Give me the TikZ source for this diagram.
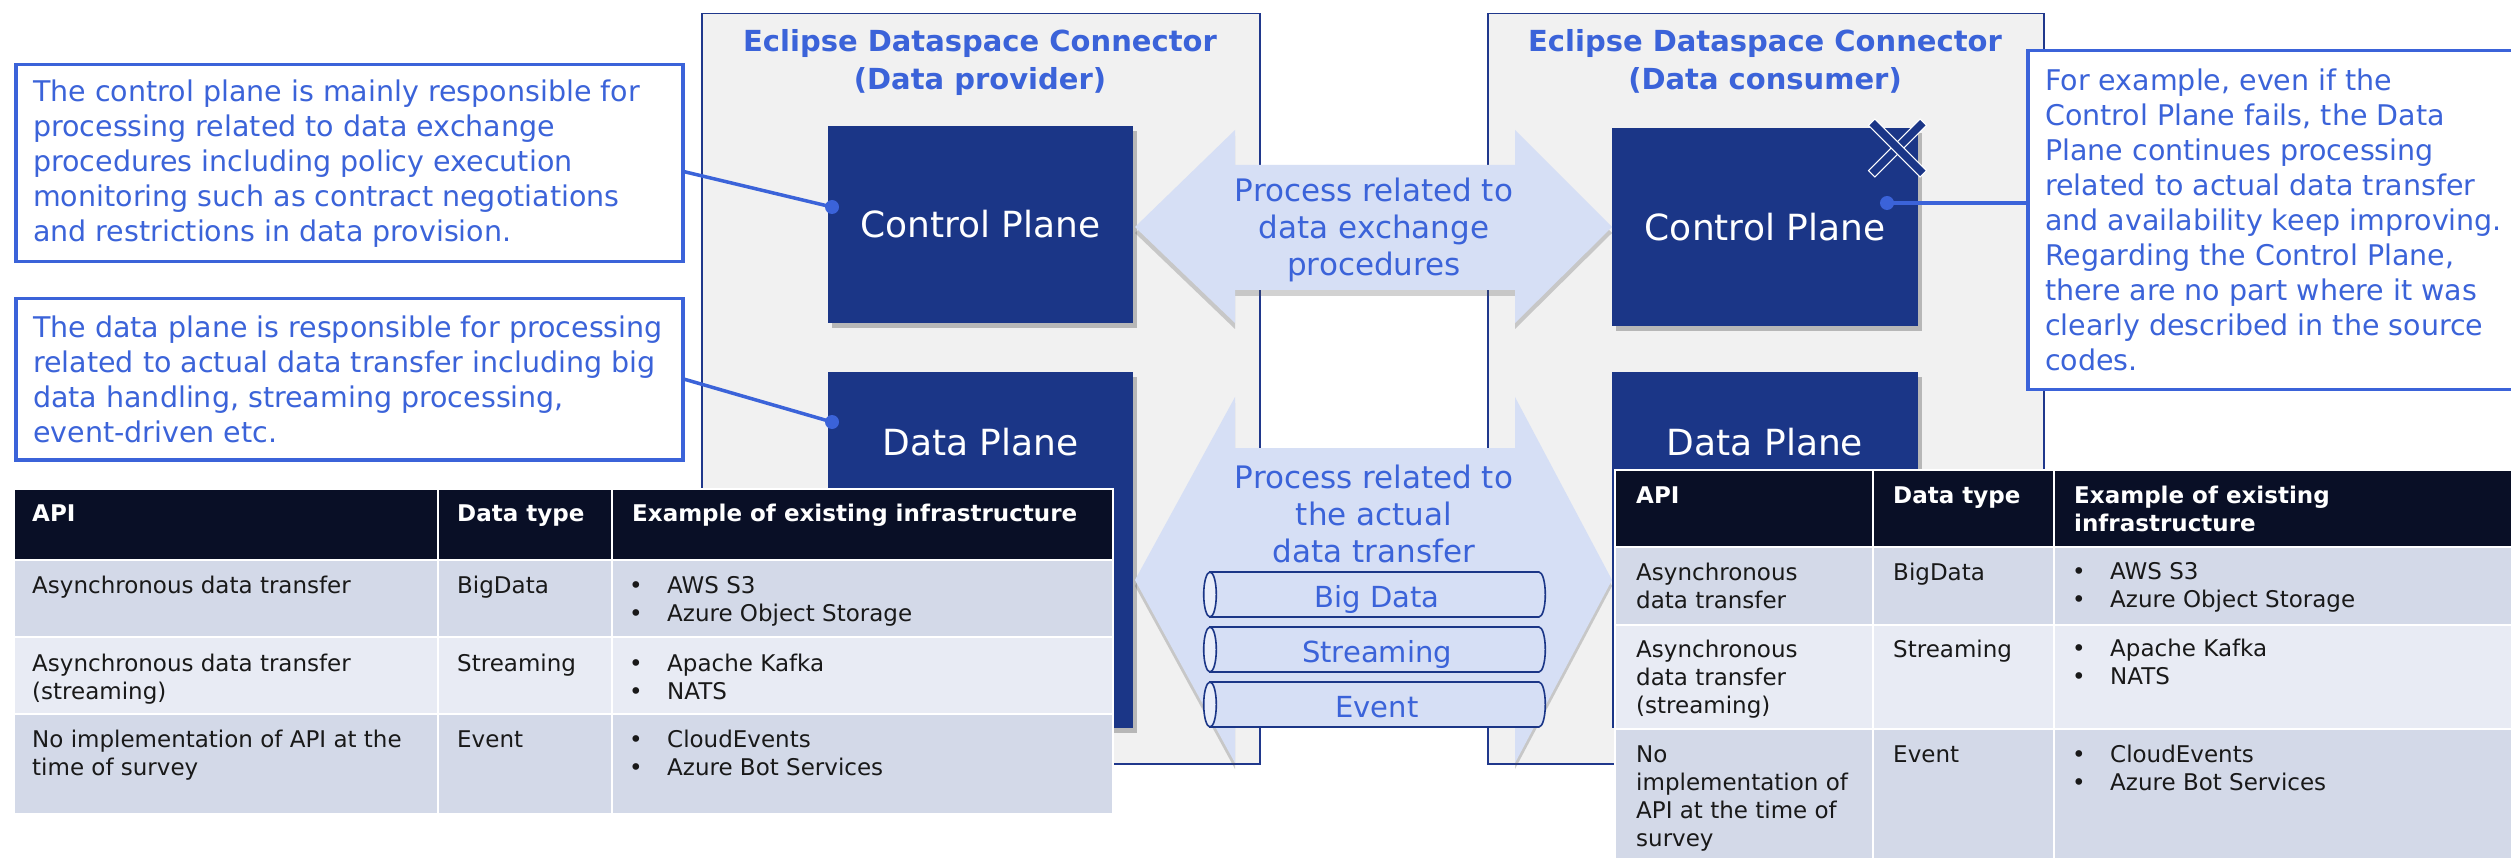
\documentclass[tikz,border=0pt]{standalone}
\usepackage{fontspec}
\setmainfont{DejaVu Sans}
\usetikzlibrary{shadows}

\definecolor{noteblue}{RGB}{59,99,217}
\definecolor{planenavy}{RGB}{27,54,135}
\definecolor{panelline}{RGB}{32,56,140}
\definecolor{panelgray}{RGB}{241,241,241}
\definecolor{flowfill}{RGB}{214,223,245}
\definecolor{capfill}{RGB}{232,237,250}
\definecolor{headnavy}{RGB}{9,15,38}
\definecolor{rowdark}{RGB}{211,217,232}
\definecolor{rowlight}{RGB}{232,235,244}
\definecolor{celltext}{RGB}{25,25,25}

\tikzset{
  panel/.style={draw=panelline, line width=1.5pt, fill=panelgray, anchor=north west, inner sep=0pt},
  paneltitle/.style={text=noteblue, font=\fontsize{29}{38}\selectfont\bfseries, align=center, anchor=base, inner sep=0pt},
  plane/.style={fill=planenavy, text=white, inner sep=0pt, font=\fontsize{36}{40}\selectfont,
    drop shadow={shadow xshift=4pt, shadow yshift=-5pt, opacity=.35, fill=black!70}},
  planelabel/.style={text=white, font=\fontsize{36}{40}\selectfont, anchor=base, inner sep=0pt},
  note/.style={draw=noteblue, line width=3.5pt, fill=white, anchor=north west, inner sep=0pt},
  notetext/.style={text=noteblue, font=\fontsize{28.5}{35}\selectfont, align=left, anchor=west, inner sep=0pt},
  leader/.style={draw=noteblue, line width=3.5pt},
  pin/.style={circle, fill=noteblue, inner sep=0pt, minimum size=14pt},
  flow/.style={fill=flowfill, drop shadow={shadow xshift=0pt, shadow yshift=-6pt, opacity=.25, fill=black!70}},
  flowtext/.style={text=noteblue, font=\fontsize{31}{37}\selectfont, align=center, anchor=base, inner sep=0pt},
  pipe/.style={draw=planenavy, line width=1.6pt, fill=flowfill},
  pipecap/.style={draw=planenavy, line width=1.6pt, fill=capfill},
  pipetext/.style={text=noteblue, font=\fontsize{29}{30}\selectfont, anchor=base, inner sep=0pt},
  cell/.style={text=celltext, font=\fontsize{23}{28}\selectfont, align=left, anchor=base west, inner sep=0pt},
  headcell/.style={cell, text=white, font=\fontsize{23}{28}\selectfont\bfseries},
  gap/.style={draw=white, line width=2.5pt},
  failbar/.style={draw=white, line width=1pt, fill=planenavy, minimum width=73pt, minimum height=9pt, inner sep=0pt},
}
\newcommand{\bul}{\makebox[38pt][l]{\textbullet}}

\begin{document}
\begin{tikzpicture}[x=1pt, y=-1pt]
  \useasboundingbox[fill=white] (0,0) rectangle (2511,858);

  % Connector panels (multi-line nodes sit on their last baseline)
  \node[panel, minimum width=558pt, minimum height=750pt] (provider) at (701,13) {};
  \node[panel, minimum width=556pt, minimum height=750pt] (consumer) at (1487,13) {};
  \node[paneltitle] (provtitle) at (980,90) {Eclipse Dataspace Connector\\(Data provider)};
  \node[paneltitle] (constitle) at (1765,90) {Eclipse Dataspace Connector\\(Data consumer)};

  % Control and data planes
  \node[plane, minimum width=305pt, minimum height=197pt] (provctrl) at (980.5,224.5) {Control Plane};
  \node[plane, minimum width=305pt, minimum height=356pt, anchor=north] (provdata) at (980.5,372) {};
  \node[planelabel] (provdatatext) at (980.5,455) {Data Plane};
  \node[plane, minimum width=306pt, minimum height=198pt] (consctrl) at (1765,227) {Control Plane};
  \node[plane, minimum width=306pt, minimum height=356pt, anchor=north] (consdata) at (1765,372) {};
  \node[planelabel] (consdatatext) at (1765,455) {Data Plane};

  % Failure mark
  \node[failbar, rotate=45] (failx1) at (1897.5,148) {};
  \node[failbar, rotate=-45] (failx2) at (1897.5,148) {};

  % Double arrows between the planes
  \path[flow] (1135,227) -- (1235,130) -- (1235,165) -- (1515,165) -- (1515,130)
    -- (1612,227) -- (1515,323) -- (1515,290) -- (1235,290) -- (1235,323) -- cycle;
  \node[flowtext] (xchg) at (1374,276) {Process related to\\data exchange\\procedures};
  \path[flow] (1135,580) -- (1235,397) -- (1235,448) -- (1515,448) -- (1515,397)
    -- (1612,580) -- (1515,763) -- (1515,712) -- (1235,712) -- (1235,763) -- cycle;
  \node[flowtext] (xfer) at (1374,562) {Process related to\\the actual\\data transfer};

  % Pipes
  \draw[pipe] (1210,572) -- (1539,572) arc[start angle=90, end angle=-90, x radius=6.3pt, y radius=22.5pt] -- (1210,617) -- cycle;
  \draw[pipecap] (1210,594.5) ellipse[x radius=6.3pt, y radius=22.5pt];
  \node[pipetext] (bigdata) at (1377,607) {Big Data};
  \draw[pipe] (1210,627) -- (1539,627) arc[start angle=90, end angle=-90, x radius=6.3pt, y radius=22.5pt] -- (1210,672) -- cycle;
  \draw[pipecap] (1210,649.5) ellipse[x radius=6.3pt, y radius=22.5pt];
  \node[pipetext] (streaming) at (1377,662) {Streaming};
  \draw[pipe] (1210,682) -- (1539,682) arc[start angle=90, end angle=-90, x radius=6.3pt, y radius=22.5pt] -- (1210,727) -- cycle;
  \draw[pipecap] (1210,704.5) ellipse[x radius=6.3pt, y radius=22.5pt];
  \node[pipetext] (event) at (1377,717) {Event};

  % Callouts
  \node[note, minimum width=667pt, minimum height=197pt] (ctlnote) at (14,63) {};
  \node[notetext] (ctltext) at ([xshift=19pt]ctlnote.west) {The control plane is mainly responsible for\\processing related to data exchange\\procedures including policy execution\\monitoring such as contract negotiations\\and restrictions in data provision.};
  \node[note, minimum width=667pt, minimum height=161pt] (datanote) at (14,297) {};
  \node[notetext] (datatext) at ([xshift=19pt]datanote.west) {The data plane is responsible for processing\\related to actual data transfer including big\\data handling, streaming processing,\\event-driven etc.};
  \node[note, minimum width=520pt, minimum height=339pt] (failnote) at (2026,49) {};
  \node[notetext] (failtext) at ([xshift=19pt]failnote.west) {For example, even if the\\Control Plane fails, the Data\\Plane continues processing\\related to actual data transfer\\and availability keep improving.\\Regarding the Control Plane,\\there are no part where it was\\clearly described in the source\\codes.};

  \node[pin] (provpin) at (832,207) {};
  \node[pin] (datapin) at (832,422) {};
  \node[pin] (conspin) at (1887,203) {};
  \draw[leader] ([yshift=-8.5pt]ctlnote.east) -- (provpin.center);
  \draw[leader] (datanote.east) -- (datapin.center);
  \draw[leader] (conspin.center) -- (conspin -| failnote.west);

  % Left table
  \fill[headnavy] (14,489) rectangle (1113,560);
  \fill[rowdark] (14,560) rectangle (1113,637);
  \fill[rowlight] (14,637) rectangle (1113,714);
  \fill[rowdark] (14,714) rectangle (1113,814);
  \draw[gap] (14,489) rectangle (1113,814);
  \draw[gap] (14,560) -- (1113,560) (14,637) -- (1113,637) (14,714) -- (1113,714);
  \draw[gap] (438,489) -- (438,814) (612,489) -- (612,814);
  \node[headcell] (lapi) at (32,521) {API};
  \node[headcell] (ltype) at (457,521) {Data type};
  \node[headcell] (linfra) at (632,521) {Example of existing infrastructure};
  \node[cell] (lapi1) at (32,593) {Asynchronous data transfer};
  \node[cell] (ltype1) at (457,593) {BigData};
  \node[cell] (linfra1) at (629,621) {\bul AWS S3\\\bul Azure Object Storage};
  \node[cell] (lapi2) at (32,699) {Asynchronous data transfer\\(streaming)};
  \node[cell] (ltype2) at (457,671) {Streaming};
  \node[cell] (linfra2) at (629,699) {\bul Apache Kafka\\\bul NATS};
  \node[cell] (lapi3) at (32,775) {No implementation of API at the\\time of survey};
  \node[cell] (ltype3) at (457,747) {Event};
  \node[cell] (linfra3) at (629,775) {\bul CloudEvents\\\bul Azure Bot Services};

  % Right table
  \fill[headnavy] (1615,470) rectangle (2530,547);
  \fill[rowdark] (1615,547) rectangle (2530,625);
  \fill[rowlight] (1615,625) rectangle (2530,729);
  \fill[rowdark] (1615,729) rectangle (2530,870);
  \draw[gap] (1615,470) rectangle (2530,870);
  \draw[gap] (1615,547) -- (2530,547) (1615,625) -- (2530,625) (1615,729) -- (2530,729);
  \draw[gap] (1873,470) -- (1873,870) (2054,470) -- (2054,870);
  \node[headcell] (rapi) at (1636,503) {API};
  \node[headcell] (rtype) at (1893,503) {Data type};
  \node[headcell] (rinfra) at (2074,531) {Example of existing\\infrastructure};
  \node[cell] (rapi1) at (1636,608) {Asynchronous\\data transfer};
  \node[cell] (rtype1) at (1893,580) {BigData};
  \node[cell] (rinfra1) at (2072,607) {\bul AWS S3\\\bul Azure Object Storage};
  \node[cell] (rapi2) at (1636,713) {Asynchronous\\data transfer\\(streaming)};
  \node[cell] (rtype2) at (1893,657) {Streaming};
  \node[cell] (rinfra2) at (2072,684) {\bul Apache Kafka\\\bul NATS};
  \node[cell] (rapi3) at (1636,846) {No\\implementation of\\API at the time of\\survey};
  \node[cell] (rtype3) at (1893,762) {Event};
  \node[cell] (rinfra3) at (2072,790) {\bul CloudEvents\\\bul Azure Bot Services};
\end{tikzpicture}
\end{document}
